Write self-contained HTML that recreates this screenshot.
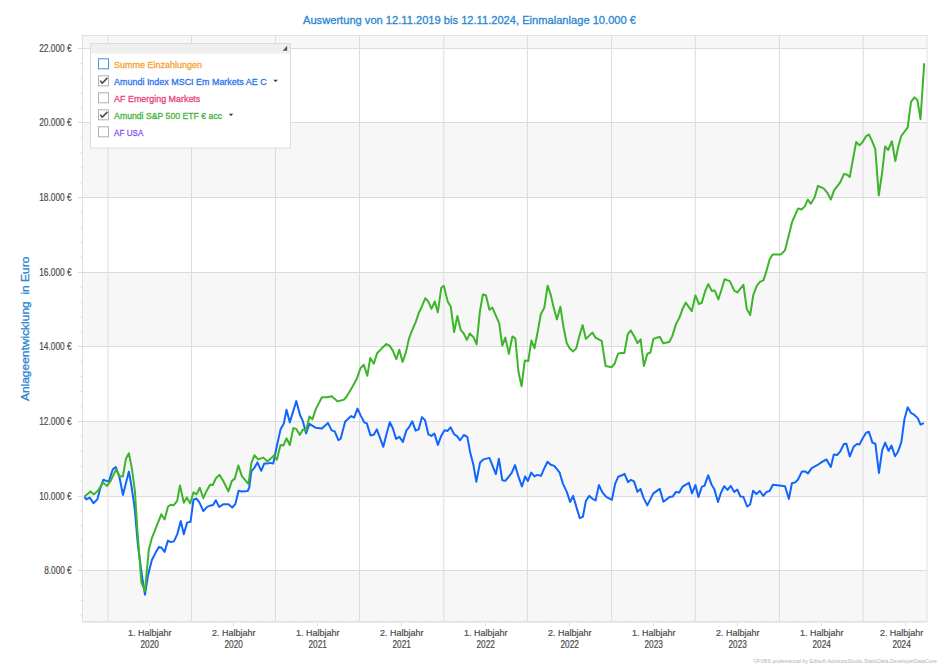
<!DOCTYPE html>
<html><head><meta charset="utf-8"><title>Auswertung</title>
<style>
html,body{margin:0;padding:0;background:#fff;width:940px;height:665px;overflow:hidden}
svg{display:block}
#w{width:940px;height:665px}
text{font-family:"Liberation Sans","DejaVu Sans",sans-serif;stroke-width:0.3px;paint-order:stroke}
.ax{font-size:9.6px;fill:#4a4a4a;stroke:#4a4a4a;stroke-width:0.2px}
.ya{font-size:10.8px}
.xa{font-size:9.8px}
.yr{font-size:10.1px}
.ti{font-size:11.3px;fill:#2a86d0;stroke:#2a86d0}
.lg{font-size:9.8px}
.cp{font-size:6px;fill:#b0b0b0}
</style></head><body>
<div id="w"><svg width="940" height="665" viewBox="0 0 940 665">
<rect width="940" height="665" fill="#fff"/>
<rect x="82.5" y="35.5" width="844.5" height="13.0" fill="#f7f7f7"/>
<rect x="82.5" y="122.5" width="844.5" height="75.0" fill="#f7f7f7"/>
<rect x="82.5" y="272.5" width="844.5" height="74.0" fill="#f7f7f7"/>
<rect x="82.5" y="421.5" width="844.5" height="75.0" fill="#f7f7f7"/>
<rect x="82.5" y="570.5" width="844.5" height="51.0" fill="#f7f7f7"/>
<line x1="82.5" y1="48.5" x2="927.0" y2="48.5" stroke="#dcdcdc"/>
<line x1="78" y1="48.5" x2="82.5" y2="48.5" stroke="#dcdcdc"/>
<line x1="82.5" y1="122.5" x2="927.0" y2="122.5" stroke="#dcdcdc"/>
<line x1="78" y1="122.5" x2="82.5" y2="122.5" stroke="#dcdcdc"/>
<line x1="82.5" y1="197.5" x2="927.0" y2="197.5" stroke="#dcdcdc"/>
<line x1="78" y1="197.5" x2="82.5" y2="197.5" stroke="#dcdcdc"/>
<line x1="82.5" y1="272.5" x2="927.0" y2="272.5" stroke="#dcdcdc"/>
<line x1="78" y1="272.5" x2="82.5" y2="272.5" stroke="#dcdcdc"/>
<line x1="82.5" y1="346.5" x2="927.0" y2="346.5" stroke="#dcdcdc"/>
<line x1="78" y1="346.5" x2="82.5" y2="346.5" stroke="#dcdcdc"/>
<line x1="82.5" y1="421.5" x2="927.0" y2="421.5" stroke="#dcdcdc"/>
<line x1="78" y1="421.5" x2="82.5" y2="421.5" stroke="#dcdcdc"/>
<line x1="82.5" y1="496.5" x2="927.0" y2="496.5" stroke="#dcdcdc"/>
<line x1="78" y1="496.5" x2="82.5" y2="496.5" stroke="#dcdcdc"/>
<line x1="82.5" y1="570.5" x2="927.0" y2="570.5" stroke="#dcdcdc"/>
<line x1="78" y1="570.5" x2="82.5" y2="570.5" stroke="#dcdcdc"/>
<line x1="80.5" y1="63.4" x2="82.5" y2="63.4" stroke="#dcdcdc"/>
<line x1="80.5" y1="78.3" x2="82.5" y2="78.3" stroke="#dcdcdc"/>
<line x1="80.5" y1="93.2" x2="82.5" y2="93.2" stroke="#dcdcdc"/>
<line x1="80.5" y1="108.2" x2="82.5" y2="108.2" stroke="#dcdcdc"/>
<line x1="80.5" y1="138.0" x2="82.5" y2="138.0" stroke="#dcdcdc"/>
<line x1="80.5" y1="152.9" x2="82.5" y2="152.9" stroke="#dcdcdc"/>
<line x1="80.5" y1="167.8" x2="82.5" y2="167.8" stroke="#dcdcdc"/>
<line x1="80.5" y1="182.7" x2="82.5" y2="182.7" stroke="#dcdcdc"/>
<line x1="80.5" y1="212.6" x2="82.5" y2="212.6" stroke="#dcdcdc"/>
<line x1="80.5" y1="227.5" x2="82.5" y2="227.5" stroke="#dcdcdc"/>
<line x1="80.5" y1="242.4" x2="82.5" y2="242.4" stroke="#dcdcdc"/>
<line x1="80.5" y1="257.3" x2="82.5" y2="257.3" stroke="#dcdcdc"/>
<line x1="80.5" y1="287.1" x2="82.5" y2="287.1" stroke="#dcdcdc"/>
<line x1="80.5" y1="302.0" x2="82.5" y2="302.0" stroke="#dcdcdc"/>
<line x1="80.5" y1="317.0" x2="82.5" y2="317.0" stroke="#dcdcdc"/>
<line x1="80.5" y1="331.9" x2="82.5" y2="331.9" stroke="#dcdcdc"/>
<line x1="80.5" y1="361.7" x2="82.5" y2="361.7" stroke="#dcdcdc"/>
<line x1="80.5" y1="376.6" x2="82.5" y2="376.6" stroke="#dcdcdc"/>
<line x1="80.5" y1="391.5" x2="82.5" y2="391.5" stroke="#dcdcdc"/>
<line x1="80.5" y1="406.4" x2="82.5" y2="406.4" stroke="#dcdcdc"/>
<line x1="80.5" y1="436.3" x2="82.5" y2="436.3" stroke="#dcdcdc"/>
<line x1="80.5" y1="451.2" x2="82.5" y2="451.2" stroke="#dcdcdc"/>
<line x1="80.5" y1="466.1" x2="82.5" y2="466.1" stroke="#dcdcdc"/>
<line x1="80.5" y1="481.0" x2="82.5" y2="481.0" stroke="#dcdcdc"/>
<line x1="80.5" y1="510.8" x2="82.5" y2="510.8" stroke="#dcdcdc"/>
<line x1="80.5" y1="525.8" x2="82.5" y2="525.8" stroke="#dcdcdc"/>
<line x1="80.5" y1="540.7" x2="82.5" y2="540.7" stroke="#dcdcdc"/>
<line x1="80.5" y1="555.6" x2="82.5" y2="555.6" stroke="#dcdcdc"/>
<line x1="80.5" y1="585.4" x2="82.5" y2="585.4" stroke="#dcdcdc"/>
<line x1="80.5" y1="600.3" x2="82.5" y2="600.3" stroke="#dcdcdc"/>
<line x1="80.5" y1="615.2" x2="82.5" y2="615.2" stroke="#dcdcdc"/>
<line x1="108" y1="35.5" x2="108" y2="621.5" stroke="#dcdcdc"/>
<line x1="191.5" y1="35.5" x2="191.5" y2="621.5" stroke="#dcdcdc"/>
<line x1="275.5" y1="35.5" x2="275.5" y2="621.5" stroke="#dcdcdc"/>
<line x1="359.5" y1="35.5" x2="359.5" y2="621.5" stroke="#dcdcdc"/>
<line x1="443.8" y1="35.5" x2="443.8" y2="621.5" stroke="#dcdcdc"/>
<line x1="527.4" y1="35.5" x2="527.4" y2="621.5" stroke="#dcdcdc"/>
<line x1="611.6" y1="35.5" x2="611.6" y2="621.5" stroke="#dcdcdc"/>
<line x1="695.3" y1="35.5" x2="695.3" y2="621.5" stroke="#dcdcdc"/>
<line x1="779.4" y1="35.5" x2="779.4" y2="621.5" stroke="#dcdcdc"/>
<line x1="863.2" y1="35.5" x2="863.2" y2="621.5" stroke="#dcdcdc"/>
<line x1="99.1" y1="621.5" x2="99.1" y2="623.5" stroke="#dcdcdc"/>
<line x1="115.9" y1="621.5" x2="115.9" y2="623.5" stroke="#dcdcdc"/>
<line x1="132.7" y1="621.5" x2="132.7" y2="623.5" stroke="#dcdcdc"/>
<line x1="149.5" y1="621.5" x2="149.5" y2="626" stroke="#dcdcdc"/>
<line x1="166.3" y1="621.5" x2="166.3" y2="623.5" stroke="#dcdcdc"/>
<line x1="183.1" y1="621.5" x2="183.1" y2="623.5" stroke="#dcdcdc"/>
<line x1="199.9" y1="621.5" x2="199.9" y2="623.5" stroke="#dcdcdc"/>
<line x1="216.7" y1="621.5" x2="216.7" y2="623.5" stroke="#dcdcdc"/>
<line x1="233.5" y1="621.5" x2="233.5" y2="626" stroke="#dcdcdc"/>
<line x1="250.3" y1="621.5" x2="250.3" y2="623.5" stroke="#dcdcdc"/>
<line x1="267.1" y1="621.5" x2="267.1" y2="623.5" stroke="#dcdcdc"/>
<line x1="283.9" y1="621.5" x2="283.9" y2="623.5" stroke="#dcdcdc"/>
<line x1="300.7" y1="621.5" x2="300.7" y2="623.5" stroke="#dcdcdc"/>
<line x1="317.5" y1="621.5" x2="317.5" y2="626" stroke="#dcdcdc"/>
<line x1="334.3" y1="621.5" x2="334.3" y2="623.5" stroke="#dcdcdc"/>
<line x1="351.1" y1="621.5" x2="351.1" y2="623.5" stroke="#dcdcdc"/>
<line x1="367.9" y1="621.5" x2="367.9" y2="623.5" stroke="#dcdcdc"/>
<line x1="384.7" y1="621.5" x2="384.7" y2="623.5" stroke="#dcdcdc"/>
<line x1="401.5" y1="621.5" x2="401.5" y2="626" stroke="#dcdcdc"/>
<line x1="418.3" y1="621.5" x2="418.3" y2="623.5" stroke="#dcdcdc"/>
<line x1="435.1" y1="621.5" x2="435.1" y2="623.5" stroke="#dcdcdc"/>
<line x1="451.9" y1="621.5" x2="451.9" y2="623.5" stroke="#dcdcdc"/>
<line x1="468.7" y1="621.5" x2="468.7" y2="623.5" stroke="#dcdcdc"/>
<line x1="485.5" y1="621.5" x2="485.5" y2="626" stroke="#dcdcdc"/>
<line x1="502.3" y1="621.5" x2="502.3" y2="623.5" stroke="#dcdcdc"/>
<line x1="519.1" y1="621.5" x2="519.1" y2="623.5" stroke="#dcdcdc"/>
<line x1="535.9" y1="621.5" x2="535.9" y2="623.5" stroke="#dcdcdc"/>
<line x1="552.7" y1="621.5" x2="552.7" y2="623.5" stroke="#dcdcdc"/>
<line x1="569.5" y1="621.5" x2="569.5" y2="626" stroke="#dcdcdc"/>
<line x1="586.3" y1="621.5" x2="586.3" y2="623.5" stroke="#dcdcdc"/>
<line x1="603.1" y1="621.5" x2="603.1" y2="623.5" stroke="#dcdcdc"/>
<line x1="619.9" y1="621.5" x2="619.9" y2="623.5" stroke="#dcdcdc"/>
<line x1="636.7" y1="621.5" x2="636.7" y2="623.5" stroke="#dcdcdc"/>
<line x1="653.5" y1="621.5" x2="653.5" y2="626" stroke="#dcdcdc"/>
<line x1="670.3" y1="621.5" x2="670.3" y2="623.5" stroke="#dcdcdc"/>
<line x1="687.1" y1="621.5" x2="687.1" y2="623.5" stroke="#dcdcdc"/>
<line x1="703.9" y1="621.5" x2="703.9" y2="623.5" stroke="#dcdcdc"/>
<line x1="720.7" y1="621.5" x2="720.7" y2="623.5" stroke="#dcdcdc"/>
<line x1="737.5" y1="621.5" x2="737.5" y2="626" stroke="#dcdcdc"/>
<line x1="754.3" y1="621.5" x2="754.3" y2="623.5" stroke="#dcdcdc"/>
<line x1="771.1" y1="621.5" x2="771.1" y2="623.5" stroke="#dcdcdc"/>
<line x1="787.9" y1="621.5" x2="787.9" y2="623.5" stroke="#dcdcdc"/>
<line x1="804.7" y1="621.5" x2="804.7" y2="623.5" stroke="#dcdcdc"/>
<line x1="821.5" y1="621.5" x2="821.5" y2="626" stroke="#dcdcdc"/>
<line x1="838.3" y1="621.5" x2="838.3" y2="623.5" stroke="#dcdcdc"/>
<line x1="855.1" y1="621.5" x2="855.1" y2="623.5" stroke="#dcdcdc"/>
<line x1="871.9" y1="621.5" x2="871.9" y2="623.5" stroke="#dcdcdc"/>
<line x1="888.7" y1="621.5" x2="888.7" y2="623.5" stroke="#dcdcdc"/>
<line x1="905.5" y1="621.5" x2="905.5" y2="626" stroke="#dcdcdc"/>
<rect x="82.5" y="35.5" width="844.5" height="586.0" fill="none" stroke="#e0e0e0"/>
<line x1="82.5" y1="622.5" x2="927.0" y2="622.5" stroke="#eeeeee"/>
<polyline points="84.5,496.8 86.3,499.4 89.8,497.6 93.5,503.2 97.3,499.4 100.3,488.1 103.3,479.8 106.3,480.9 108.9,481.4 112.8,469.3 115.8,467.1 119.4,476.8 122.9,494.9 128.9,471.6 131.3,485.1 134.6,507.7 137.9,545.1 142.3,578.2 145,594.7 148,575.2 151.8,560.2 155.6,552.6 158.9,546.9 161.6,547.8 164.6,551.9 167.9,540.6 170.9,542.1 173.9,541.4 177.4,533.8 180.8,521.1 183.8,534.3 187.1,522.6 190.5,521.8 193.5,499.7 196.5,498.5 199.5,502.7 203.3,511 207.1,506.9 210.8,505.4 213.1,505 215.8,500.2 219.1,506.9 223.6,504.2 228.4,504.2 232.3,507.5 235.3,504.2 238.6,490.7 241.7,491.4 247.7,491 249.2,487.7 251.4,471.1 254.4,467.8 257.4,462.4 261.2,470.8 264.2,463.6 267.2,463.6 270.2,462.9 273.2,463.6 276.8,446.2 280.5,429.6 283.8,423.6 286.5,409.8 289.8,422.4 296.3,401.1 300.1,415.3 302.8,420.9 306.1,433.4 309.4,423.9 315.9,427.8 321.9,428.4 327.9,422.9 331.7,430.4 334.7,431.4 338.4,440.2 340.7,438.6 345.2,421.4 351.2,416.1 354.2,417.6 357.5,408.6 361,416.1 364.2,422.3 366.8,423.4 370.5,435.4 373.8,434.8 376.8,429.4 379.8,437.4 383.3,446.8 386.8,432.9 389.8,422.3 392.8,428.3 396.1,438.9 399.4,436.9 402.9,441.9 406.3,430.6 409.3,426.8 412.3,421.3 415.6,430.6 418.6,429.4 422,417.1 425,420.1 428.4,434.4 431.4,435.9 434.4,433.6 437.9,444.9 441.2,435.9 444.5,430.3 447.5,430.9 450.5,427.3 454.2,434.3 456.8,435.8 460.2,440.3 463.8,435 467.3,436.8 470.3,453.1 473.3,464.4 476.3,481.7 480.1,462.4 483.4,459.4 489.4,457.9 492.9,466.6 495.9,474.1 498.9,458.8 502.3,480.2 505.3,480.9 511.7,472.9 515,465.1 518.4,476.4 521.9,486.5 525.2,476.4 527.9,480.9 531.2,472.6 534.5,476.4 537.2,474.9 541,475.9 544,468.9 547.5,461.8 550.8,464.8 554.3,465.9 559.5,472.3 562.9,483.6 566.8,491.9 570.1,502 573.1,495.9 576.8,508.4 579.8,518.2 582.9,516.7 585.9,500.9 589.3,495.9 592.3,498.6 595.6,500.5 598.9,485.1 602.4,492.3 606.2,496.8 611.9,499.8 615.2,483.6 618.2,476.8 622,475.3 624.5,473.8 628,482.1 631,479.8 634,481.4 637.5,491.9 640.5,488.9 643.5,497.9 647.3,505.4 653.3,493.4 659.8,488.9 663.4,501.7 669.4,497.1 672.9,496.4 675.9,491.9 679.3,492.6 682.6,486.6 688.9,482.9 692,493.4 695.4,485.1 698.4,497.1 701.9,486.6 704.4,485.9 708.2,475.3 711.5,484.4 714.2,488.9 718,502 721,492.6 724.2,486.2 727.5,489.9 730.8,485.9 734.3,491.9 737.3,489.5 740.3,496.4 743.3,496.7 747.1,506.5 750.1,504.5 753.1,490.7 756.4,494 759.8,491 763.3,495.9 766.6,491.9 769.6,491 772.9,484.7 779.4,485.4 785,486.2 788.9,498.9 791.9,483.2 795.2,482.4 797.9,479.8 802,471.4 805,471.4 808,473.4 811.7,468.1 817.2,465.2 822,461.9 826.5,459.5 830.8,467 833.8,454.4 837.1,455 840.1,451.7 843.8,444.1 846.4,443.8 849.8,456.5 853.6,446.8 856.9,444.1 859.6,444.4 862.6,438.4 865.9,432.9 868.9,431.8 872.4,442.6 875.4,443.8 878.9,473 882.2,450.2 885.2,442.6 888.5,450.9 891.5,445.6 895,456.2 898,451.7 901.3,442.4 904.4,419.3 907.7,407.2 911.1,413.2 914.2,414.7 917.9,418.4 920.5,424.7 923.9,423.2" fill="none" stroke="#1265fc" stroke-width="2" stroke-linejoin="round"/>
<polyline points="84.5,496.4 90.5,491.4 94,494.4 98.8,489.6 102.9,482.4 107.1,485.9 110.8,480.6 116.1,469.3 119.4,476.1 122.9,476.4 125.9,458.8 128.9,453.2 131.9,468.6 134.9,491.1 137.1,525.7 141.3,582 145,591 148.8,549.6 151.8,538.3 157.1,524.8 161.3,514.3 164.6,519.5 167.9,506.8 170.6,504.8 173.6,505.3 177.2,500.8 180,485.4 183.8,502.7 186.8,497.4 190.2,503.5 193.5,492.2 196.5,494.4 199.8,487.7 203.3,498.2 206.3,491.4 210.1,484.7 212.8,485 216.1,477.9 219.4,474.9 222.9,480.2 228.4,491.4 231.9,480.9 234.9,478.6 238.3,465.4 242,476.4 248.4,483.9 251.4,462.9 254.4,455.3 258.2,459.4 263.5,457.6 267.2,461.4 270.2,459.1 274.2,455.2 276.8,459.7 280.5,445 283.5,445.4 286.5,438.3 289.8,445 293.3,428.1 296.3,428.9 299.8,434.9 302.8,429.6 306.1,430.4 309.4,416.4 312.4,419.4 315.9,408.9 321.9,397.3 327.1,397.3 331.7,396.2 337.7,401.4 343.7,399.8 346.7,396.5 352,387.5 356.8,378.7 360.5,368.2 363.8,364.7 367.3,375.7 370.3,358 373.8,363.7 377.1,353.2 381.6,348.6 386.4,344.1 389.8,345.9 392.9,350.9 396.3,359.2 399.3,349.8 402.6,361.9 405.9,352.4 408.9,338.9 412,330.6 415.9,321.6 418.9,312.6 421.9,306.5 425.2,298.3 428.2,301.3 431.5,308.8 434.8,301.3 437.8,312.4 441.3,287.7 443.8,285.8 447.7,301.6 450.8,306.8 454.1,332 457.4,315.9 460.8,330.2 463.8,333.5 466.8,339.9 469.8,333.5 473.6,337.4 476.6,344.4 479.9,311.4 482.9,294.4 485.9,295.3 489.4,309.8 492.4,307.6 499.2,323.4 502.3,345.6 505.3,337.6 508.9,353.9 512.4,336.4 515.3,338.3 518.5,372 521.6,386.2 524.8,360.5 528.2,361.1 531.4,340.6 534.5,348.2 537.8,331.1 540.8,314.3 544.3,307.8 547.6,285.7 550.6,294.3 553.9,308.6 556.9,319.4 560.4,306.8 563.4,326.6 566.8,343.2 569.8,348.4 573.2,351.4 576.2,348.4 579.5,335.6 582.6,325.1 585.9,338.9 592.4,332.6 595.7,337.9 601.7,340.9 605.6,366 611.7,367.2 614.7,363.5 618,353.7 621.1,352.9 624.4,352.9 627.8,334.1 630.8,330.4 634.3,336.4 637.6,343.2 640.6,339.4 643.9,366 647.4,353.7 650.4,352.5 653.4,338.9 659.8,336.8 663.2,343.2 669.2,342 672.2,336.4 675.9,324.4 679.4,317.6 682.4,309.3 685.7,302.6 691.8,311.2 695.4,295.4 699,304 701.7,302.9 705,291.7 708.3,284.1 711.8,290.9 714.8,290.5 718.3,299.5 721.3,290.2 724.6,279.3 729.8,281.1 734.4,290.9 737.4,292.4 743.4,284.9 746.8,308.9 750.2,315 753.2,295.4 756.9,285.6 759.9,281.9 763.4,280.4 765.9,272.9 769.7,259.3 772.7,254.4 781,254.4 785,250.3 788.7,235.7 792,222.2 795,215.4 798,208.6 801.8,209.4 804.8,206.4 807.8,199.6 810.8,203.8 814.6,197.4 817.9,185.8 823.6,188.3 827.4,192.9 830.8,199.6 834.1,190.3 840.2,182.3 844,173.9 846.8,174.4 849.8,176.9 852.8,160.1 856.2,142 859.5,145.4 862.6,142 865.9,136.4 868.9,134.5 871.8,140.4 875.3,149.2 878.8,195.4 882.1,172.9 885.1,146.4 888.2,150 891.9,141.2 895.3,161 898.3,146.5 901.3,136 907.7,127.4 911,101.9 914.4,97.4 917.4,99.9 920.5,119.2 924.2,63.2" fill="none" stroke="#3db52a" stroke-width="2" stroke-linejoin="round"/>
<rect x="90.5" y="43.5" width="200" height="104.5" fill="#ffffff" stroke="#dcdcdc"/>
<rect x="91.0" y="44.0" width="199" height="9.6" fill="#efefef"/>
<polygon points="287.2,45.8 287.2,50.8 282.6,50.8" fill="#555"/>
<rect x="98.5" y="58.8" width="10" height="10" fill="#fff" stroke="#4a8fd8"/>
<text x="114.1" y="67.8" textLength="87.9" lengthAdjust="spacingAndGlyphs" class="lg" fill="#f7a233" stroke="#f7a233">Summe Einzahlungen</text>
<rect x="98.5" y="75.8" width="10" height="10" fill="#fff" stroke="#b0b0b0"/>
<polyline points="100.3,80.6 102.2,83.2 107.4,77.9" fill="none" stroke="#4a4a4a" stroke-width="1.6" stroke-linejoin="round"/>
<polygon points="273.3,79.8 277.9,79.8 275.6,82.1" fill="#333"/>
<text x="114.1" y="84.8" textLength="152.5" lengthAdjust="spacingAndGlyphs" class="lg" fill="#2a72f0" stroke="#2a72f0">Amundi Index MSCI Em Markets AE C</text>
<rect x="98.5" y="92.8" width="10" height="10" fill="#fff" stroke="#b0b0b0"/>
<text x="114.1" y="101.8" textLength="86.2" lengthAdjust="spacingAndGlyphs" class="lg" fill="#e8427a" stroke="#e8427a">AF Emerging Markets</text>
<rect x="98.5" y="109.8" width="10" height="10" fill="#fff" stroke="#b0b0b0"/>
<polyline points="100.3,114.6 102.2,117.2 107.4,111.9" fill="none" stroke="#4a4a4a" stroke-width="1.6" stroke-linejoin="round"/>
<polygon points="228.7,113.8 233.3,113.8 231.0,116.1" fill="#333"/>
<text x="114.1" y="118.8" textLength="108.0" lengthAdjust="spacingAndGlyphs" class="lg" fill="#44b23a" stroke="#44b23a">Amundi S&amp;P 500 ETF € acc</text>
<rect x="98.5" y="126.8" width="10" height="10" fill="#fff" stroke="#b0b0b0"/>
<text x="114.1" y="135.8" textLength="29.2" lengthAdjust="spacingAndGlyphs" class="lg" fill="#8c4ef2" stroke="#8c4ef2">AF USA</text>
<text x="71.7" y="51.6" text-anchor="end" textLength="32.5" lengthAdjust="spacingAndGlyphs" class="ax ya">22.000 €</text>
<text x="71.7" y="125.6" text-anchor="end" textLength="32.5" lengthAdjust="spacingAndGlyphs" class="ax ya">20.000 €</text>
<text x="71.7" y="200.6" text-anchor="end" textLength="32.5" lengthAdjust="spacingAndGlyphs" class="ax ya">18.000 €</text>
<text x="71.7" y="275.6" text-anchor="end" textLength="32.5" lengthAdjust="spacingAndGlyphs" class="ax ya">16.000 €</text>
<text x="71.7" y="349.6" text-anchor="end" textLength="32.5" lengthAdjust="spacingAndGlyphs" class="ax ya">14.000 €</text>
<text x="71.7" y="424.6" text-anchor="end" textLength="32.5" lengthAdjust="spacingAndGlyphs" class="ax ya">12.000 €</text>
<text x="71.7" y="499.6" text-anchor="end" textLength="32.5" lengthAdjust="spacingAndGlyphs" class="ax ya">10.000 €</text>
<text x="71.7" y="573.6" text-anchor="end" textLength="27.5" lengthAdjust="spacingAndGlyphs" class="ax ya">8.000 €</text>
<text x="149.7" y="636.4" text-anchor="middle" textLength="43.4" lengthAdjust="spacingAndGlyphs" class="ax xa">1. Halbjahr</text>
<text x="149.7" y="647.8" text-anchor="middle" textLength="18.4" lengthAdjust="spacingAndGlyphs" class="ax yr">2020</text>
<text x="233.7" y="636.4" text-anchor="middle" textLength="43.4" lengthAdjust="spacingAndGlyphs" class="ax xa">2. Halbjahr</text>
<text x="233.7" y="647.8" text-anchor="middle" textLength="18.4" lengthAdjust="spacingAndGlyphs" class="ax yr">2020</text>
<text x="317.7" y="636.4" text-anchor="middle" textLength="43.4" lengthAdjust="spacingAndGlyphs" class="ax xa">1. Halbjahr</text>
<text x="317.7" y="647.8" text-anchor="middle" textLength="18.4" lengthAdjust="spacingAndGlyphs" class="ax yr">2021</text>
<text x="401.7" y="636.4" text-anchor="middle" textLength="43.4" lengthAdjust="spacingAndGlyphs" class="ax xa">2. Halbjahr</text>
<text x="401.7" y="647.8" text-anchor="middle" textLength="18.4" lengthAdjust="spacingAndGlyphs" class="ax yr">2021</text>
<text x="485.7" y="636.4" text-anchor="middle" textLength="43.4" lengthAdjust="spacingAndGlyphs" class="ax xa">1. Halbjahr</text>
<text x="485.7" y="647.8" text-anchor="middle" textLength="18.4" lengthAdjust="spacingAndGlyphs" class="ax yr">2022</text>
<text x="569.7" y="636.4" text-anchor="middle" textLength="43.4" lengthAdjust="spacingAndGlyphs" class="ax xa">2. Halbjahr</text>
<text x="569.7" y="647.8" text-anchor="middle" textLength="18.4" lengthAdjust="spacingAndGlyphs" class="ax yr">2022</text>
<text x="653.7" y="636.4" text-anchor="middle" textLength="43.4" lengthAdjust="spacingAndGlyphs" class="ax xa">1. Halbjahr</text>
<text x="653.7" y="647.8" text-anchor="middle" textLength="18.4" lengthAdjust="spacingAndGlyphs" class="ax yr">2023</text>
<text x="737.7" y="636.4" text-anchor="middle" textLength="43.4" lengthAdjust="spacingAndGlyphs" class="ax xa">2. Halbjahr</text>
<text x="737.7" y="647.8" text-anchor="middle" textLength="18.4" lengthAdjust="spacingAndGlyphs" class="ax yr">2023</text>
<text x="821.7" y="636.4" text-anchor="middle" textLength="43.4" lengthAdjust="spacingAndGlyphs" class="ax xa">1. Halbjahr</text>
<text x="821.7" y="647.8" text-anchor="middle" textLength="18.4" lengthAdjust="spacingAndGlyphs" class="ax yr">2024</text>
<text x="901.6" y="636.4" text-anchor="middle" textLength="43.4" lengthAdjust="spacingAndGlyphs" class="ax xa">2. Halbjahr</text>
<text x="901.6" y="647.8" text-anchor="middle" textLength="18.4" lengthAdjust="spacingAndGlyphs" class="ax yr">2024</text>
<text x="469.5" y="24.4" text-anchor="middle" textLength="333" lengthAdjust="spacingAndGlyphs" class="ti">Auswertung von 12.11.2019 bis 12.11.2024, Einmalanlage 10.000 €</text>
<text transform="translate(28.8 328.9) rotate(-90)" x="0" y="0" text-anchor="middle" textLength="144.4" lengthAdjust="spacingAndGlyphs" class="ti">Anlageentwicklung&#160; in Euro</text>
<text x="936.8" y="662.5" text-anchor="end" textLength="183.6" lengthAdjust="spacingAndGlyphs" class="cp">©FVBS professional by Edisoft.AdvisorsStudio.StaticData.DeveloperDataCore</text>
</svg></div>
</body></html>
